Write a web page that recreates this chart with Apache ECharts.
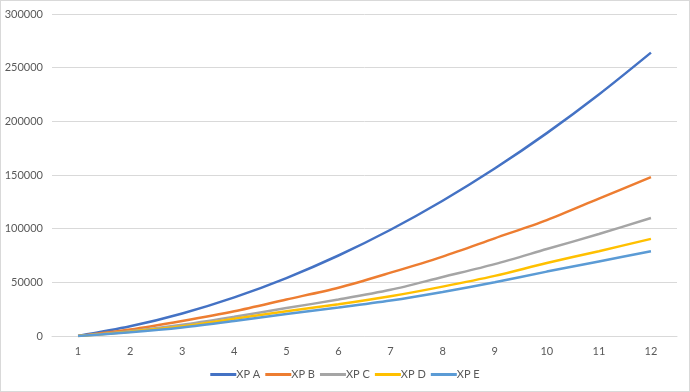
<!DOCTYPE html>
<html>
<head>
<meta charset="utf-8">
<script src="https://cdn.jsdelivr.net/npm/echarts@6/dist/echarts.min.js"></script>
<style>
html,body{margin:0;padding:0;background:#fff;}
#chart{width:690px;height:392px;box-sizing:border-box;border:1px solid #d9d9d9;}
</style>
</head>
<body>
<div id="chart"></div>
<script>
const categories = ['1','2','3','4','5','6','7','8','9','10','11','12'];
const seriesNames = ['XP A','XP B','XP C','XP D','XP E'];
const xpA = [0, 9000, 21000, 36000, 54000, 75000, 99000, 126000, 156000, 189000, 225000, 264000];
const xpB = [0, 6000, 14000, 23000, 34000, 45000, 59000, 74000, 91000, 108000, 128000, 148000];
const xpC = [0, 4500, 10500, 18000, 26000, 34000, 43000, 55000, 67000, 81000, 95000, 110000];
const xpD = [0, 4000, 9000, 16000, 23000, 29500, 37000, 46000, 56000, 68000, 79000, 90500];
const xpE = [0, 3500, 8000, 14000, 20500, 26500, 33000, 41000, 50000, 60000, 69500, 79000];
const colors = ['#4472C4','#ED7D31','#A5A5A5','#FFC000','#5B9BD5'];
const allData = [xpA, xpB, xpC, xpD, xpE];

const chart = echarts.init(document.getElementById('chart'));
chart.setOption({
  animation: false,
  textStyle: {fontFamily: 'Lato, "Open Sans", sans-serif'},
  color: colors,
  grid: {left: 51, right: 12, top: 13, bottom: 55},
  legend: {
    bottom: 6,
    left: 'center',
    icon: 'rect',
    itemWidth: 26,
    itemHeight: 3,
    itemGap: 5,
    textStyle: {color: '#595959', fontSize: 11, padding: [0,0,0,-5]},
    data: seriesNames
  },
  xAxis: {
    type: 'category',
    data: categories,
    boundaryGap: true,
    axisLine: {lineStyle: {color: '#d9d9d9'}},
    axisTick: {show: false},
    axisLabel: {color: '#595959', fontSize: 11, margin: 10}
  },
  yAxis: {
    type: 'value',
    min: 0,
    max: 300000,
    interval: 50000,
    axisLine: {show: false},
    axisTick: {show: false},
    splitLine: {lineStyle: {color: '#d9d9d9'}},
    axisLabel: {color: '#595959', fontSize: 11, margin: 9, formatter: v => String(v)}
  },
  series: seriesNames.map((n, i) => ({
    name: n,
    type: 'line',
    data: allData[i],
    smooth: 0.3,
    symbol: 'none',
    lineStyle: {width: 2.5, color: colors[i]},
    itemStyle: {color: colors[i]}
  }))
});
</script>
</body>
</html>
